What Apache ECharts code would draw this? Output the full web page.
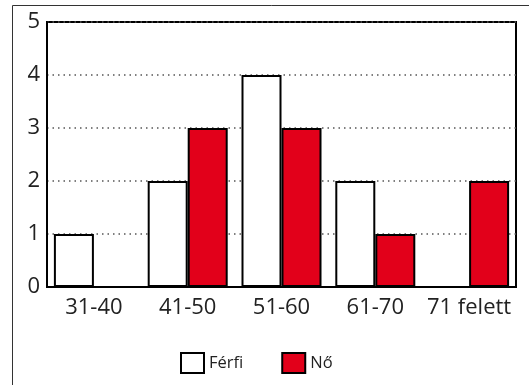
<!DOCTYPE html>
<html><head><meta charset="utf-8">
<script src="https://cdn.jsdelivr.net/npm/echarts@6/dist/echarts.min.js"></script>
<style>html,body{margin:0;padding:0;background:#fff}#c{width:529px;height:385px}</style>
</head><body><div id="c"></div>
<script>
var categories = ['31-40', '41-50', '51-60', '61-70', '71 felett'];
var ferfi = [1, 2, 4, 2, 0];
var no = [0, 3, 3, 1, 2];
var yTicks = [0, 1, 2, 3, 4, 5];

var chart = echarts.init(document.getElementById('c'), null, {renderer: 'canvas'});
var font = '"Open Sans", "Noto Sans", sans-serif';
chart.setOption({
  animation: false,
  backgroundColor: '#fff',
  textStyle: {fontFamily: font},
  graphic: [{
    type: 'rect', silent: true, z: -10,
    shape: {x: 12.5, y: 5.5, width: 600, height: 500},
    style: {fill: 'none', stroke: '#333', lineWidth: 1}
  }],
  grid: {left: 47, top: 22, right: 13, bottom: 98, show: true, borderColor: '#000', borderWidth: 2, backgroundColor: 'transparent'},
  legend: {
    left: 180, top: 352, padding: 0, itemWidth: 23, itemHeight: 20, itemGap: 38,
    icon: 'rect',
    textStyle: {fontFamily: font, fontSize: 16.5, color: '#222'},
    data: ['Férfi', 'Nő']
  },
  xAxis: {
    type: 'category', data: categories,
    axisLine: {show: true, lineStyle: {color: '#000', width: 2}},
    axisTick: {show: false},
    axisLabel: {fontFamily: font, fontSize: 22, color: '#222', margin: 10, interval: 0}
  },
  yAxis: {
    type: 'value', min: yTicks[0], max: yTicks[yTicks.length - 1], interval: 1,
    axisLine: {show: true, lineStyle: {color: '#000', width: 2}},
    axisTick: {show: false},
    axisLabel: {fontFamily: font, fontSize: 22, color: '#222', margin: 7},
    splitLine: {show: true, lineStyle: {color: '#555', width: 1.5, type: [1.5, 4]}}
  },
  series: [
    {name: 'Férfi', type: 'bar', data: ferfi, barWidth: 40, barGap: '0%',
     itemStyle: {color: '#fff', borderColor: '#000', borderWidth: 2, borderRadius: 0, borderJoin: 'miter'}},
    {name: 'Nő', type: 'bar', data: no, barWidth: 40, barGap: '0%',
     itemStyle: {color: '#e2001a', borderColor: '#000', borderWidth: 2, borderRadius: 0, borderJoin: 'miter'}}
  ]
});
</script></body></html>
